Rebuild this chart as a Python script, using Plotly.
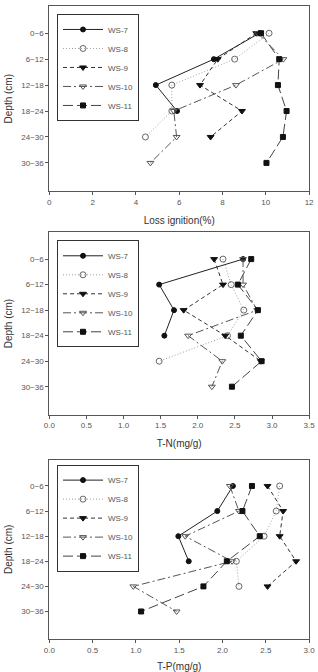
import plotly.graph_objects as go

depths = ["0~6", "6~12", "12~18", "18~24", "24~30", "30~36"]
series_names = ["WS-7", "WS-8", "WS-9", "WS-10", "WS-11"]

# Loss ignition (%)
loi_ws7 = [9.70, 7.60, 4.92, 5.90]
loi_ws8 = [10.15, 8.56, 5.66, 5.66, 4.44]
loi_ws9 = [9.56, 7.78, 6.96, 8.90, 7.45]
loi_ws10 = [9.63, 10.81, 8.62, 5.75, 5.88, 4.67]
loi_ws11 = [9.78, 10.62, 10.56, 10.96, 10.79, 10.03]

# T-N (mg/g)
tn_ws7 = [2.61, 1.48, 1.68, 1.55]
tn_ws8 = [2.34, 2.45, 2.62, 2.40, 1.48]
tn_ws9 = [2.22, 2.34, 1.81, 2.37, 2.85]
tn_ws10 = [2.61, 2.61, 2.80, 1.87, 2.33, 2.19]
tn_ws11 = [2.72, 2.54, 2.81, 2.58, 2.86, 2.46]

# T-P (mg/g)
tp_ws7 = [2.12, 1.94, 1.49, 1.61]
tp_ws8 = [2.66, 2.62, 2.48, 2.16, 2.19]
tp_ws9 = [2.52, 2.70, 2.66, 2.85, 2.52]
tp_ws10 = [2.085, 2.19, 1.57, 2.11, 0.97, 1.47]
tp_ws11 = [2.34, 2.23, 2.43, 2.05, 1.78, 1.06]

panels = [
    ([loi_ws7, loi_ws8, loi_ws9, loi_ws10, loi_ws11], "Loss ignition(%)", [0, 12], [0, 2, 4, 6, 8, 10, 12], ["0", "2", "4", "6", "8", "10", "12"]),
    ([tn_ws7, tn_ws8, tn_ws9, tn_ws10, tn_ws11], "T-N(mg/g)", [0, 3.5], [0, 0.5, 1, 1.5, 2, 2.5, 3, 3.5], ["0.0", "0.5", "1.0", "1.5", "2.0", "2.5", "3.0", "3.5"]),
    ([tp_ws7, tp_ws8, tp_ws9, tp_ws10, tp_ws11], "T-P(mg/g)", [0, 3.0], [0, 0.5, 1, 1.5, 2, 2.5, 3], ["0.0", "0.5", "1.0", "1.5", "2.0", "2.5", "3.0"]),
]

styles = [
    dict(line=dict(color="#222222", width=1, dash="solid"), marker=dict(symbol="circle", color="#111111", size=5, line=dict(color="#111111", width=1))),
    dict(line=dict(color="#a0a0a0", width=1, dash="1px,2px"), marker=dict(symbol="circle-open", color="#666666", size=6, line=dict(color="#666666", width=1))),
    dict(line=dict(color="#333333", width=1, dash="4px,3px"), marker=dict(symbol="triangle-down", color="#111111", size=6, line=dict(color="#111111", width=1))),
    dict(line=dict(color="#555555", width=1, dash="8px,3px,2px,3px"), marker=dict(symbol="triangle-down-open", color="#555555", size=6, line=dict(color="#555555", width=1))),
    dict(line=dict(color="#444444", width=1, dash="10px,4px"), marker=dict(symbol="square", color="#111111", size=5, line=dict(color="#111111", width=1))),
]

W, H = 318, 672
x_dom = [45 / W, 315 / W]
y_doms = [
    [1 - 192 / H, 1 - 6 / H],
    [1 - 416 / H, 1 - 233 / H],
    [1 - 641 / H, 1 - 461 / H],
]
legend_tops = [1 - 14 / H, 1 - 241 / H, 1 - 466 / H]

fig = go.Figure()
font_fam = "Liberation Sans, Arial, sans-serif"
grey = "#555555"

for p, (vals, xtitle, xrange, tv, tt) in enumerate(panels):
    sfx = "" if p == 0 else str(p + 1)
    for s, name in enumerate(series_names):
        v = vals[s]
        fig.add_trace(go.Scatter(
            x=v, y=depths[:len(v)], mode="lines+markers", name=name,
            xaxis="x" + sfx, yaxis="y" + sfx,
            legend="legend" + sfx,
            line=styles[s]["line"], marker=styles[s]["marker"],
        ))
    fig.update_layout(**{
        "xaxis" + sfx: dict(
            domain=x_dom, anchor="y" + sfx, range=xrange, tickvals=tv, ticktext=tt,
            showgrid=False, zeroline=False, showline=True, mirror=True,
            linecolor=grey, linewidth=1, ticks="outside", ticklen=3, tickcolor=grey,
            ticklabeloverflow="allow",
            tickfont=dict(size=8, color="#555555", family=font_fam),
            title=dict(text=xtitle, font=dict(size=10, color="#333333", family=font_fam), standoff=10),
        ),
        "yaxis" + sfx: dict(
            domain=y_doms[p], anchor="x" + sfx, type="category",
            categoryorder="array", categoryarray=depths, range=[6.1, -1.05],
            showgrid=False, zeroline=False, showline=True, mirror=True,
            linecolor=grey, linewidth=1, ticks="outside", ticklen=3, tickcolor=grey,
            tickfont=dict(size=8, color="#555555", family=font_fam),
            title=dict(text="Depth (cm)", font=dict(size=10, color="#333333", family=font_fam), standoff=6),
        ),
        "legend" + sfx: dict(
            x=53 / W, y=legend_tops[p], xanchor="left", yanchor="top",
            bgcolor="white", bordercolor="#333333", borderwidth=1,
            font=dict(size=8, color="#555555", family=font_fam),
            tracegroupgap=0, itemwidth=40,
        ),
    })

fig.update_layout(
    width=W, height=H, margin=dict(l=0, r=0, t=0, b=0),
    paper_bgcolor="white", plot_bgcolor="white", showlegend=True,
)

fig.write_html("out.html")
